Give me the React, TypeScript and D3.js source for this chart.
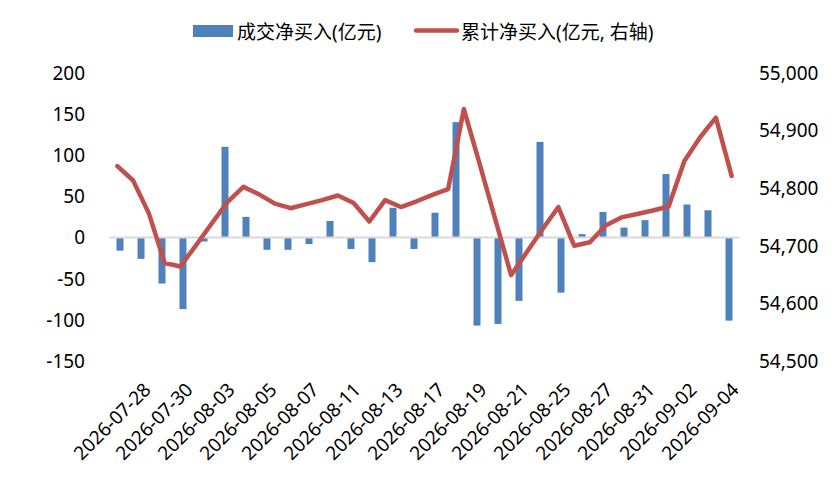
import React from "react";
import * as d3 from "d3";

const dates = [
  "2026-07-27","2026-07-28","2026-07-29","2026-07-30","2026-07-31",
  "2026-08-03","2026-08-04","2026-08-05","2026-08-06","2026-08-07",
  "2026-08-10","2026-08-11","2026-08-12","2026-08-13","2026-08-14",
  "2026-08-17","2026-08-18","2026-08-19","2026-08-20","2026-08-21",
  "2026-08-24","2026-08-25","2026-08-26","2026-08-27","2026-08-28",
  "2026-08-31","2026-09-01","2026-09-02","2026-09-03","2026-09-04",
];
const shownLabels = [
  "2026-07-28","2026-07-30","2026-08-03","2026-08-05","2026-08-07",
  "2026-08-11","2026-08-13","2026-08-17","2026-08-19","2026-08-21",
  "2026-08-25","2026-08-27","2026-08-31","2026-09-02","2026-09-04",
];
const netBuy = [
  -16, -26, -56, -87, -5, 110, 25, -15, -15, -8,
  20, -14, -30, 36, -14, 30, 140, -107, -105, -77,
  116, -67, 4, 31, 12, 21, 77, 40, 33, -101,
];
const cumNetBuy = [
  54838, 54813, 54756, 54670, 54664, 54701, 54739, 54776, 54802, 54789,
  54773, 54765, 54772, 54779, 54787, 54774, 54742, 54779, 54767, 54777,
  54788, 54798, 54937, 54842, 54745, 54649, 54689, 54729, 54767, 54700,
  54706, 54735, 54749, 54755, 54761, 54768, 54847, 54888, 54922, 54821,
];
const leftTicks = [200, 150, 100, 50, 0, -50, -100, -150];
const rightTicks = [55000, 54900, 54800, 54700, 54600, 54500];
const barName = "成交净买入(亿元)";
const lineName = "累计净买入(亿元, 右轴)";

const W = 837;
const H = 481;
const FONT = "'Noto Sans', 'Noto Sans CJK SC', sans-serif";
const BLUE = "#4f81bd";
const RED = "#c0504d";

export default function App() {
  const left = 109.5, right = 739.5, top = 72.7, bottom = 361;
  const x = d3.scaleBand<string>().domain(dates).range([left, right]);
  const x2 = d3.scaleBand<number>().domain(d3.range(cumNetBuy.length)).range([left, right]);
  const yL = d3.scaleLinear().domain([-150, 200]).range([bottom, top]);
  const yR = d3.scaleLinear().domain([54500, 55000]).range([bottom, top]);
  const bw = x.bandwidth() / 3;
  const line = d3
    .line<number>()
    .x((_, i) => (x2(i) as number) + x2.bandwidth() / 2)
    .y((d) => yR(d));
  const fmt = d3.format(",");

  return (
    <svg
      width={W}
      height={H}
      style={{ position: "absolute", left: 0, top: 0, background: "#fff" }}
      fontFamily={FONT}
    >
      {netBuy.map((v, i) => {
        const cx = (x(dates[i]) as number) + x.bandwidth() / 2;
        const y0 = yL(0), y1 = yL(v);
        return (
          <rect
            key={i}
            x={cx - bw / 2}
            y={Math.min(y0, y1)}
            width={bw}
            height={Math.abs(y1 - y0)}
            fill={BLUE}
          />
        );
      })}
      <line x1={left} x2={right} y1={yL(0)} y2={yL(0)} stroke="#d9d9d9" strokeWidth={2} />
      <path
        d={line(cumNetBuy) || ""}
        fill="none"
        stroke={RED}
        strokeWidth={4.5}
        strokeLinejoin="round"
        strokeLinecap="round"
      />
      {leftTicks.map((t) => (
        <text key={t} x={85} y={yL(t)} textAnchor="end" dominantBaseline="central" fontSize={19} fill="#000">
          {t}
        </text>
      ))}
      {rightTicks.map((t) => (
        <text key={t} x={759} y={yR(t)} textAnchor="start" dominantBaseline="central" fontSize={19} fill="#000">
          {fmt(t)}
        </text>
      ))}
      {shownLabels.map((d) => {
        const cx = (x(d) as number) + x.bandwidth() / 2;
        const ax = cx + 11, ay = 391;
        return (
          <text
            key={d}
            x={ax}
            y={ay}
            textAnchor="end"
            fontSize={19}
            fill="#000"
            transform={`rotate(-45, ${ax}, ${ay})`}
          >
            {d}
          </text>
        );
      })}
      <rect x={193} y={25} width={40} height={12} fill={BLUE} />
      <text x={237} y={31.5} dominantBaseline="central" fontSize={19} fill="#000">
        {barName}
      </text>
      <line x1={416} x2={457} y1={30.5} y2={30.5} stroke={RED} strokeWidth={4.5} strokeLinecap="round" />
      <text x={461} y={31.5} dominantBaseline="central" fontSize={19} fill="#000">
        {lineName}
      </text>
    </svg>
  );
}
